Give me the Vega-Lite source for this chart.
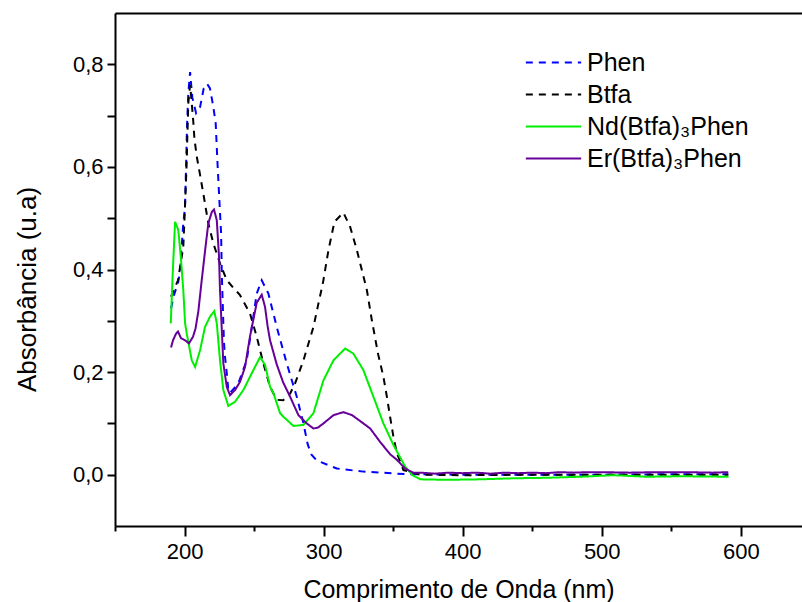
{
"$schema": "https://vega.github.io/schema/vega-lite/v6.json",
"width": 687, "height": 513,
"autosize": {"type": "none"},
"padding": {"left": 115, "top": 13, "right": 0, "bottom": 76},
"background": "white",
"config": {
  "view": {"stroke": null},
  "font": "Liberation Sans",
  "axis": {"domainColor": "black", "domainWidth": 2, "tickColor": "black", "tickWidth": 2, "labelColor": "black", "labelFontSize": 22, "titleFontSize": 25, "titleFontWeight": "normal", "titleColor": "black", "grid": false, "labelFont": "Liberation Sans", "titleFont": "Liberation Sans"}
},
"datasets": {
"spectra": [
{"s":"Phen","nm":190.3,"a":0.324},{"s":"Phen","nm":192.4,"a":0.35},{"s":"Phen","nm":195.5,"a":0.376},{"s":"Phen","nm":196.8,"a":0.399},{"s":"Phen","nm":199.1,"a":0.49},{"s":"Phen","nm":200.3,"a":0.52},{"s":"Phen","nm":201.1,"a":0.6},{"s":"Phen","nm":201.8,"a":0.68},{"s":"Phen","nm":202.7,"a":0.743},{"s":"Phen","nm":204.0,"a":0.785},{"s":"Phen","nm":205.6,"a":0.735},{"s":"Phen","nm":208.3,"a":0.705},{"s":"Phen","nm":211.2,"a":0.717},{"s":"Phen","nm":213.8,"a":0.753},{"s":"Phen","nm":216.2,"a":0.762},{"s":"Phen","nm":218.3,"a":0.753},{"s":"Phen","nm":220.7,"a":0.717},{"s":"Phen","nm":222.4,"a":0.685},{"s":"Phen","nm":223.6,"a":0.613},{"s":"Phen","nm":224.8,"a":0.548},{"s":"Phen","nm":226.3,"a":0.47},{"s":"Phen","nm":226.8,"a":0.392},{"s":"Phen","nm":227.9,"a":0.295},{"s":"Phen","nm":228.4,"a":0.256},{"s":"Phen","nm":229.1,"a":0.23},{"s":"Phen","nm":230.4,"a":0.197},{"s":"Phen","nm":231.5,"a":0.165},{"s":"Phen","nm":232.7,"a":0.159},{"s":"Phen","nm":238.7,"a":0.178},{"s":"Phen","nm":244.7,"a":0.223},{"s":"Phen","nm":248.5,"a":0.29},{"s":"Phen","nm":251.9,"a":0.353},{"s":"Phen","nm":255.5,"a":0.379},{"s":"Phen","nm":260.3,"a":0.353},{"s":"Phen","nm":266.3,"a":0.288},{"s":"Phen","nm":273.5,"a":0.217},{"s":"Phen","nm":280.7,"a":0.152},{"s":"Phen","nm":285.5,"a":0.1},{"s":"Phen","nm":288.5,"a":0.06},{"s":"Phen","nm":291,"a":0.04},{"s":"Phen","nm":295,"a":0.028},{"s":"Phen","nm":309.5,"a":0.012},{"s":"Phen","nm":328.6,"a":0.006},{"s":"Phen","nm":359.9,"a":0.001},{"s":"Phen","nm":400,"a":0.0},{"s":"Phen","nm":450,"a":0.0},{"s":"Phen","nm":500,"a":0.0},{"s":"Phen","nm":550,"a":0.001},{"s":"Phen","nm":591,"a":0.001},
{"s":"Btfa","nm":190.3,"a":0.347},{"s":"Btfa","nm":195.3,"a":0.379},{"s":"Btfa","nm":199.1,"a":0.444},{"s":"Btfa","nm":200.0,"a":0.5},{"s":"Btfa","nm":200.7,"a":0.548},{"s":"Btfa","nm":201.6,"a":0.613},{"s":"Btfa","nm":202.0,"a":0.658},{"s":"Btfa","nm":202.7,"a":0.724},{"s":"Btfa","nm":204.0,"a":0.76},{"s":"Btfa","nm":205.2,"a":0.724},{"s":"Btfa","nm":206.3,"a":0.688},{"s":"Btfa","nm":207.1,"a":0.655},{"s":"Btfa","nm":208.8,"a":0.62},{"s":"Btfa","nm":211.2,"a":0.584},{"s":"Btfa","nm":213.5,"a":0.548},{"s":"Btfa","nm":217.1,"a":0.49},{"s":"Btfa","nm":220.7,"a":0.451},{"s":"Btfa","nm":225.5,"a":0.412},{"s":"Btfa","nm":230.4,"a":0.379},{"s":"Btfa","nm":234.9,"a":0.365},{"s":"Btfa","nm":239.9,"a":0.35},{"s":"Btfa","nm":247.1,"a":0.314},{"s":"Btfa","nm":251.9,"a":0.269},{"s":"Btfa","nm":256.7,"a":0.217},{"s":"Btfa","nm":261.5,"a":0.171},{"s":"Btfa","nm":266.3,"a":0.146},{"s":"Btfa","nm":270.9,"a":0.145},{"s":"Btfa","nm":275.9,"a":0.158},{"s":"Btfa","nm":279.5,"a":0.178},{"s":"Btfa","nm":285.5,"a":0.223},{"s":"Btfa","nm":292.7,"a":0.288},{"s":"Btfa","nm":296.0,"a":0.33},{"s":"Btfa","nm":299.6,"a":0.375},{"s":"Btfa","nm":303.5,"a":0.438},{"s":"Btfa","nm":307.8,"a":0.493},{"s":"Btfa","nm":314.2,"a":0.511},{"s":"Btfa","nm":319.1,"a":0.483},{"s":"Btfa","nm":323.9,"a":0.438},{"s":"Btfa","nm":327.5,"a":0.399},{"s":"Btfa","nm":331.1,"a":0.36},{"s":"Btfa","nm":334.7,"a":0.301},{"s":"Btfa","nm":339.2,"a":0.235},{"s":"Btfa","nm":343.0,"a":0.191},{"s":"Btfa","nm":345.5,"a":0.152},{"s":"Btfa","nm":347.8,"a":0.113},{"s":"Btfa","nm":350.2,"a":0.074},{"s":"Btfa","nm":352.7,"a":0.042},{"s":"Btfa","nm":357.4,"a":0.009},{"s":"Btfa","nm":369.4,"a":0.0},{"s":"Btfa","nm":400,"a":-0.001},{"s":"Btfa","nm":450,"a":0.0},{"s":"Btfa","nm":500,"a":0.0},{"s":"Btfa","nm":550,"a":0.0},{"s":"Btfa","nm":591,"a":0.0},
{"s":"Nd(Btfa)₃Phen","nm":190.1,"a":0.295},{"s":"Nd(Btfa)₃Phen","nm":191.5,"a":0.392},{"s":"Nd(Btfa)₃Phen","nm":193.2,"a":0.493},{"s":"Nd(Btfa)₃Phen","nm":195.5,"a":0.477},{"s":"Nd(Btfa)₃Phen","nm":197.3,"a":0.425},{"s":"Nd(Btfa)₃Phen","nm":199.1,"a":0.36},{"s":"Nd(Btfa)₃Phen","nm":200.4,"a":0.295},{"s":"Nd(Btfa)₃Phen","nm":201.6,"a":0.275},{"s":"Nd(Btfa)₃Phen","nm":205.2,"a":0.223},{"s":"Nd(Btfa)₃Phen","nm":207.6,"a":0.21},{"s":"Nd(Btfa)₃Phen","nm":211.2,"a":0.243},{"s":"Nd(Btfa)₃Phen","nm":214.7,"a":0.288},{"s":"Nd(Btfa)₃Phen","nm":218.3,"a":0.308},{"s":"Nd(Btfa)₃Phen","nm":221.4,"a":0.319},{"s":"Nd(Btfa)₃Phen","nm":223.2,"a":0.295},{"s":"Nd(Btfa)₃Phen","nm":225.5,"a":0.223},{"s":"Nd(Btfa)₃Phen","nm":227.9,"a":0.165},{"s":"Nd(Btfa)₃Phen","nm":231.5,"a":0.134},{"s":"Nd(Btfa)₃Phen","nm":236.3,"a":0.142},{"s":"Nd(Btfa)₃Phen","nm":242.3,"a":0.165},{"s":"Nd(Btfa)₃Phen","nm":249.5,"a":0.204},{"s":"Nd(Btfa)₃Phen","nm":254.3,"a":0.229},{"s":"Nd(Btfa)₃Phen","nm":257.9,"a":0.214},{"s":"Nd(Btfa)₃Phen","nm":261.5,"a":0.171},{"s":"Nd(Btfa)₃Phen","nm":263.9,"a":0.159},{"s":"Nd(Btfa)₃Phen","nm":268.7,"a":0.12},{"s":"Nd(Btfa)₃Phen","nm":271.1,"a":0.113},{"s":"Nd(Btfa)₃Phen","nm":278.3,"a":0.095},{"s":"Nd(Btfa)₃Phen","nm":285.5,"a":0.097},{"s":"Nd(Btfa)₃Phen","nm":292.7,"a":0.12},{"s":"Nd(Btfa)₃Phen","nm":299.9,"a":0.184},{"s":"Nd(Btfa)₃Phen","nm":307.1,"a":0.223},{"s":"Nd(Btfa)₃Phen","nm":315.5,"a":0.246},{"s":"Nd(Btfa)₃Phen","nm":321.4,"a":0.236},{"s":"Nd(Btfa)₃Phen","nm":328.6,"a":0.204},{"s":"Nd(Btfa)₃Phen","nm":335.8,"a":0.152},{"s":"Nd(Btfa)₃Phen","nm":343.0,"a":0.1},{"s":"Nd(Btfa)₃Phen","nm":350.2,"a":0.058},{"s":"Nd(Btfa)₃Phen","nm":358.6,"a":0.016},{"s":"Nd(Btfa)₃Phen","nm":363.5,"a":0.0},{"s":"Nd(Btfa)₃Phen","nm":369.4,"a":-0.009},{"s":"Nd(Btfa)₃Phen","nm":388.6,"a":-0.01},{"s":"Nd(Btfa)₃Phen","nm":412.6,"a":-0.009},{"s":"Nd(Btfa)₃Phen","nm":436.5,"a":-0.007},{"s":"Nd(Btfa)₃Phen","nm":460.6,"a":-0.006},{"s":"Nd(Btfa)₃Phen","nm":484.5,"a":-0.004},{"s":"Nd(Btfa)₃Phen","nm":508.5,"a":-0.001},{"s":"Nd(Btfa)₃Phen","nm":532.5,"a":-0.004},{"s":"Nd(Btfa)₃Phen","nm":556.5,"a":-0.003},{"s":"Nd(Btfa)₃Phen","nm":591.2,"a":-0.004},
{"s":"Er(Btfa)₃Phen","nm":190.3,"a":0.248},{"s":"Er(Btfa)₃Phen","nm":191.7,"a":0.262},{"s":"Er(Btfa)₃Phen","nm":193.9,"a":0.275},{"s":"Er(Btfa)₃Phen","nm":195.3,"a":0.279},{"s":"Er(Btfa)₃Phen","nm":197.5,"a":0.266},{"s":"Er(Btfa)₃Phen","nm":200.4,"a":0.262},{"s":"Er(Btfa)₃Phen","nm":203.2,"a":0.256},{"s":"Er(Btfa)₃Phen","nm":206.1,"a":0.269},{"s":"Er(Btfa)₃Phen","nm":207.9,"a":0.285},{"s":"Er(Btfa)₃Phen","nm":209.9,"a":0.318},{"s":"Er(Btfa)₃Phen","nm":212.4,"a":0.38},{"s":"Er(Btfa)₃Phen","nm":214.7,"a":0.435},{"s":"Er(Btfa)₃Phen","nm":217.1,"a":0.49},{"s":"Er(Btfa)₃Phen","nm":219.6,"a":0.512},{"s":"Er(Btfa)₃Phen","nm":221.2,"a":0.517},{"s":"Er(Btfa)₃Phen","nm":223.2,"a":0.496},{"s":"Er(Btfa)₃Phen","nm":224.8,"a":0.425},{"s":"Er(Btfa)₃Phen","nm":225.5,"a":0.36},{"s":"Er(Btfa)₃Phen","nm":226.8,"a":0.282},{"s":"Er(Btfa)₃Phen","nm":227.9,"a":0.217},{"s":"Er(Btfa)₃Phen","nm":230.4,"a":0.171},{"s":"Er(Btfa)₃Phen","nm":232.7,"a":0.155},{"s":"Er(Btfa)₃Phen","nm":236.3,"a":0.165},{"s":"Er(Btfa)₃Phen","nm":239.9,"a":0.181},{"s":"Er(Btfa)₃Phen","nm":243.5,"a":0.21},{"s":"Er(Btfa)₃Phen","nm":247.1,"a":0.27},{"s":"Er(Btfa)₃Phen","nm":251.9,"a":0.335},{"s":"Er(Btfa)₃Phen","nm":255.5,"a":0.351},{"s":"Er(Btfa)₃Phen","nm":257.9,"a":0.327},{"s":"Er(Btfa)₃Phen","nm":259.7,"a":0.29},{"s":"Er(Btfa)₃Phen","nm":261.5,"a":0.262},{"s":"Er(Btfa)₃Phen","nm":266.3,"a":0.215},{"s":"Er(Btfa)₃Phen","nm":270.9,"a":0.18},{"s":"Er(Btfa)₃Phen","nm":275.9,"a":0.152},{"s":"Er(Btfa)₃Phen","nm":281.9,"a":0.116},{"s":"Er(Btfa)₃Phen","nm":287.9,"a":0.1},{"s":"Er(Btfa)₃Phen","nm":292.7,"a":0.09},{"s":"Er(Btfa)₃Phen","nm":296.0,"a":0.092},{"s":"Er(Btfa)₃Phen","nm":299.9,"a":0.1},{"s":"Er(Btfa)₃Phen","nm":307.1,"a":0.116},{"s":"Er(Btfa)₃Phen","nm":314.2,"a":0.122},{"s":"Er(Btfa)₃Phen","nm":320.5,"a":0.116},{"s":"Er(Btfa)₃Phen","nm":328.6,"a":0.1},{"s":"Er(Btfa)₃Phen","nm":333.5,"a":0.09},{"s":"Er(Btfa)₃Phen","nm":340.6,"a":0.064},{"s":"Er(Btfa)₃Phen","nm":347.8,"a":0.04},{"s":"Er(Btfa)₃Phen","nm":352.7,"a":0.029},{"s":"Er(Btfa)₃Phen","nm":358.6,"a":0.012},{"s":"Er(Btfa)₃Phen","nm":364.4,"a":0.004},{"s":"Er(Btfa)₃Phen","nm":370,"a":0.004},{"s":"Er(Btfa)₃Phen","nm":380,"a":0.002},{"s":"Er(Btfa)₃Phen","nm":390,"a":0.004},{"s":"Er(Btfa)₃Phen","nm":400,"a":0.003},{"s":"Er(Btfa)₃Phen","nm":410,"a":0.004},{"s":"Er(Btfa)₃Phen","nm":420,"a":0.002},{"s":"Er(Btfa)₃Phen","nm":430,"a":0.004},{"s":"Er(Btfa)₃Phen","nm":440,"a":0.003},{"s":"Er(Btfa)₃Phen","nm":450,"a":0.004},{"s":"Er(Btfa)₃Phen","nm":460,"a":0.003},{"s":"Er(Btfa)₃Phen","nm":470,"a":0.005},{"s":"Er(Btfa)₃Phen","nm":480,"a":0.004},{"s":"Er(Btfa)₃Phen","nm":490,"a":0.005},{"s":"Er(Btfa)₃Phen","nm":500,"a":0.005},{"s":"Er(Btfa)₃Phen","nm":520,"a":0.004},{"s":"Er(Btfa)₃Phen","nm":540,"a":0.005},{"s":"Er(Btfa)₃Phen","nm":560,"a":0.005},{"s":"Er(Btfa)₃Phen","nm":580,"a":0.004},{"s":"Er(Btfa)₃Phen","nm":591,"a":0.005}
]
},
"data": {"name": "spectra"},
"resolve": {"axis": {"x": "independent"}},
"layer": [
  {
    "mark": {"type": "point", "opacity": 0},
    "encoding": {
      "x": {"field": "nm", "type": "quantitative", "scale": {"domain": [150, 644], "nice": false, "zero": false},
            "axis": {"orient": "top", "labels": false, "ticks": false, "title": null}},
      "y": {"field": "a", "type": "quantitative", "scale": {"domain": [-0.1, 0.9], "nice": false, "zero": false}}
    }
  },
  {
    "mark": {"type": "line", "strokeWidth": 2, "clip": true},
    "encoding": {
      "x": {"field": "nm", "type": "quantitative", "scale": {"domain": [150, 644], "nice": false, "zero": false},
            "axis": {"orient": "bottom", "title": "Comprimento de Onda (nm)",
                     "values": [150, 200, 250, 300, 350, 400, 450, 500, 550, 600],
                     "labelExpr": "datum.value % 100 == 0 ? datum.label : ''",
                     "tickSize": {"condition": {"test": "datum.value % 100 == 0", "value": 10}, "value": 5},
                     "labelPadding": 5, "titlePadding": 15}},
      "y": {"field": "a", "type": "quantitative", "scale": {"domain": [-0.1, 0.9], "nice": false, "zero": false},
            "axis": {"title": "Absorbância (u.a)",
                     "values": [0, 0.1, 0.2, 0.3, 0.4, 0.5, 0.6, 0.7, 0.8],
                     "labelExpr": "round(datum.value*10) % 2 == 0 ? replace(format(datum.value, '.1f'), '.', ',') : ''",
                     "tickSize": 8, "labelPadding": 4, "titleFontSize": 26,
                     "titleX": -88, "titleY": 276, "titleBaseline": "middle", "titleAngle": 270}},
      "color": {"field": "s", "type": "nominal",
                "scale": {"domain": ["Phen", "Btfa", "Nd(Btfa)₃Phen", "Er(Btfa)₃Phen"], "range": ["#0000ff", "#000000", "#00ee00", "#660099"]},
                "legend": {"orient": "none", "legendX": 426, "legendY": 37, "title": null, "labelFontSize": 25, "labelFont": "Liberation Sans", "labelColor": "black",
                           "symbolType": "M-3,0H3", "symbolSize": 340, "symbolStrokeWidth": 2, "labelOffset": 21, "rowPadding": 6, "labelLimit": 400}},
      "strokeDash": {"field": "s", "type": "nominal",
                "scale": {"domain": ["Phen", "Btfa", "Nd(Btfa)₃Phen", "Er(Btfa)₃Phen"], "range": [[7, 6], [7, 6], [1, 0], [1, 0]]},
                "legend": {"orient": "none", "legendX": 426, "legendY": 37, "title": null, "labelFontSize": 25, "labelFont": "Liberation Sans", "labelColor": "black",
                           "symbolType": "M-3,0H3", "symbolSize": 340, "symbolStrokeWidth": 2, "labelOffset": 21, "rowPadding": 6, "labelLimit": 400}}
    }
  }
]
}
